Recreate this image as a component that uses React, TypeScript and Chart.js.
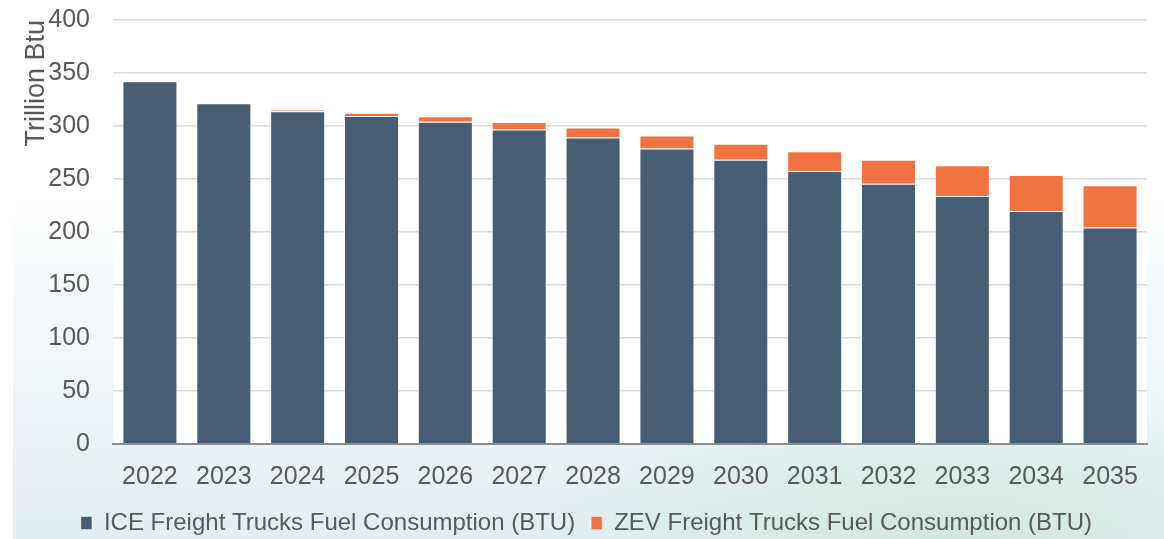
import React, { useEffect, useRef } from "react";
import { Chart, registerables } from "chart.js";

Chart.register(...registerables);

const categories = ["2022", "2023", "2024", "2025", "2026", "2027", "2028", "2029", "2030", "2031", "2032", "2033", "2034", "2035"];
const iceValues = [342.3, 321.5, 313.9, 309.4, 304.1, 296.8, 289.2, 278.8, 268.1, 257.6, 245.6, 233.9, 219.7, 204.2];
const zevValues = [0, 0, 1.6, 3.2, 5.0, 6.9, 9.5, 12.3, 15.1, 18.6, 22.5, 29.1, 34.1, 39.8];
const seriesNames = ["ICE Freight Trucks Fuel Consumption (BTU)", "ZEV Freight Trucks Fuel Consumption (BTU)"];
const yTitle = "Trillion Btu";
const yMin = 0;
const yMax = 400;
const yStep = 50;

const FONT = "'Liberation Sans', Arial, Helvetica, sans-serif";
const TEXT = "#595959";

const whiteArea = {
  id: "whiteArea",
  beforeDraw(chart: any) {
    const { ctx, chartArea } = chart;
    ctx.save();
    ctx.fillStyle = "#ffffff";
    ctx.fillRect(chartArea.left, chartArea.top, chartArea.right - chartArea.left, chartArea.bottom - chartArea.top);
    ctx.restore();
  },
};

const legendShift = {
  id: "legendShift",
  afterLayout(chart: any) {
    const l = chart.legend;
    if (l) {
      l.left += 13;
      l.right += 13;
    }
  },
};

export default function App() {
  const ref = useRef<HTMLCanvasElement | null>(null);
  useEffect(() => {
    document.body.style.margin = "0";
    const canvas = ref.current;
    if (!canvas) return;
    const chart = new Chart(canvas, {
      type: "bar",
      data: {
        labels: categories,
        datasets: [
          {
            label: seriesNames[0],
            data: iceValues,
            backgroundColor: "#475D74",
            borderColor: "rgba(255,255,255,0.45)",
            borderWidth: 1,
          },
          {
            label: seriesNames[1],
            data: zevValues,
            backgroundColor: "#F07342",
            borderColor: "rgba(255,255,255,0.45)",
            borderWidth: 1,
          },
        ],
      },
      options: {
        responsive: false,
        animation: false,
        devicePixelRatio: 1,
        layout: { padding: { left: 0, right: 17, top: 20, bottom: -6 } },
        datasets: { bar: { categoryPercentage: 1, barPercentage: 0.745 } },
        plugins: {
          tooltip: { enabled: false },
          legend: {
            position: "bottom",
            labels: {
              color: TEXT,
              font: { family: FONT, size: 24 },
              boxWidth: 11,
              boxHeight: 13,
              padding: 16,
            },
          },
        },
        scales: {
          x: {
            stacked: true,
            grid: { display: false, drawTicks: false },
            border: { display: true, color: "#8C8C8C", width: 2 },
            ticks: { color: TEXT, font: { family: FONT, size: 25 }, padding: 18, maxRotation: 0 },
            afterFit(scale: any) {
              scale.height = 51;
            },
          },
          y: {
            stacked: true,
            min: yMin,
            max: yMax,
            grid: { color: "#D9D9D9", lineWidth: 1.5, drawTicks: false },
            border: { display: false },
            ticks: { stepSize: yStep, color: TEXT, font: { family: FONT, size: 25 }, padding: 23 },
            title: {
              display: true,
              text: yTitle,
              align: "end",
              color: TEXT,
              font: { family: FONT, size: 27 },
              padding: { top: 20, bottom: 0 },
            },
            afterFit(scale: any) {
              scale.width = 113;
              scale.paddingTop = 0;
              scale.paddingBottom = 0;
            },
          },
        },
      },
      plugins: [whiteArea, legendShift],
    } as any);
    return () => chart.destroy();
  }, []);

  return (
    <div style={{ position: "absolute", left: 0, top: 0, width: 1164, height: 539, background: "#ffffff", overflow: "hidden" }}>
      <div
        style={{
          position: "absolute",
          left: 13,
          top: 0,
          width: 1151,
          height: 539,
          background:
            "radial-gradient(ellipse 420px 140px at 82% 100%, rgba(200,232,215,0.75), rgba(200,232,215,0) 100%), linear-gradient(180deg, #ffffff 35%, #eef4f7 75%, #e3edf2 100%)",
        }}
      />
      <canvas ref={ref} width={1164} height={539} style={{ position: "absolute", left: 0, top: 0, width: 1164, height: 539 }} />
    </div>
  );
}
